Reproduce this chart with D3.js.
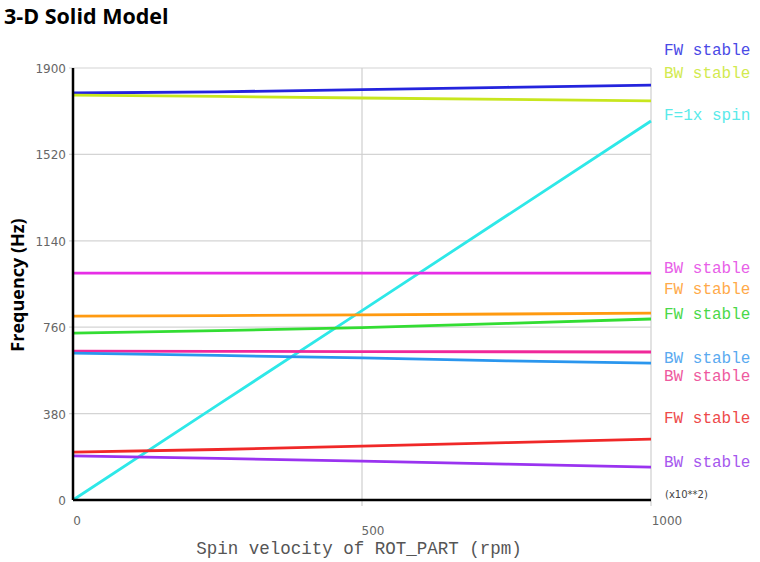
<!DOCTYPE html>
<html><head><meta charset="utf-8">
<script src="https://cdn.jsdelivr.net/npm/d3@7"></script>
<style>body{margin:0;background:#fff;}svg{display:block;}</style>
</head><body>
<script>
const title = "3-D Solid Model";
const xTicks = [0, 500, 1000];
const yTicks = [0, 380, 760, 1140, 1520, 1900];
const xSamples = [0, 250, 500, 750, 1000];
const seriesNames = ["FW stable","BW stable","F=1x spin","BW stable","FW stable","FW stable","BW stable","BW stable","FW stable","BW stable"];
const blueFW    = [1790, 1795, 1805, 1815, 1825];
const yellowBW  = [1781, 1775, 1768, 1762, 1755];
const spin1x    = [0, 417, 833, 1250, 1667];
const magentaBW = [998, 998, 998, 998, 998];
const orangeFW  = [809, 811, 814, 818, 822];
const greenFW   = [734, 745, 758, 777, 796];
const pinkBW    = [655, 654, 653, 652, 651];
const lblueBW   = [646, 636, 625, 612, 602];
const redFW     = [211, 222, 237, 252, 268];
const purpleBW  = [194, 183, 171, 158, 145];
const seriesValues = [blueFW, yellowBW, spin1x, magentaBW, orangeFW, greenFW, pinkBW, lblueBW, redFW, purpleBW];
const lineColors = ["#2424dd","#c8e61e","#2ee8e8","#e62ee6","#ff9a10","#33dd33","#f0289a","#2a96ee","#f02828","#9a33f0"];
const labelColors = ["#4a4ae6","#d2ea50","#5aeaea","#e860e8","#ffaa4a","#4ad84a","#ee5a9e","#5aaaf0","#ee4a4a","#a658ee"];
// legend label order (top to bottom) maps to series index
const legendOrder = [0,1,2,3,4,5,7,6,8,9];
const legendY = [50,73,115,268,289,314,358,376,418,462];

const W=760,H=562;
const svg=d3.select("body").append("svg").attr("width",W).attr("height",H);
const x=d3.scaleLinear().domain([0,1000]).range([73,651]);
const y=d3.scaleLinear().domain([0,1900]).range([500,68]);

svg.append("text").attr("x",4).attr("y",24).text(title)
  .attr("font-family","'Open Sans', sans-serif").attr("font-weight","bold").attr("font-size",21.5).attr("fill","#000");

// grid
svg.append("g").selectAll("line").data(yTicks.filter(d=>d>0)).join("line")
  .attr("x1",x(0)-4).attr("x2",x(1000)).attr("y1",d=>y(d)).attr("y2",d=>y(d))
  .attr("stroke","#d4d4d4").attr("stroke-width",1.2);
svg.append("g").selectAll("line").data(xTicks.filter(d=>d>0)).join("line")
  .attr("x1",d=>x(d)).attr("x2",d=>x(d)).attr("y1",y(1900)).attr("y2",y(0)+6)
  .attr("stroke","#cfcfcf").attr("stroke-width",1.2);

// y tick labels
svg.append("g").selectAll("text").data(yTicks).join("text")
  .attr("x",x(0)-7).attr("y",d=>y(d)+5).attr("text-anchor","end").text(d=>d)
  .attr("font-family","'DejaVu Sans', sans-serif").attr("font-size",12).attr("fill","#666");
// x tick labels
const xLabY={0:525,500:535,1000:525};
const xLabDx={0:4,500:11,1000:16};
svg.append("g").selectAll("text").data(xTicks).join("text")
  .attr("x",d=>x(d)+xLabDx[d]).attr("y",d=>xLabY[d]).attr("text-anchor","middle").text(d=>d)
  .attr("font-family","'DejaVu Sans', sans-serif").attr("font-size",12).attr("fill","#666");
svg.append("text").attr("x",665).attr("y",498).text("(x10**2)")
  .attr("font-family","'DejaVu Sans', sans-serif").attr("font-size",10).attr("fill","#444");

// lines
const line=d3.line().x((d,i)=>x(xSamples[i])).y(d=>y(d));
svg.append("g").selectAll("path").data(seriesValues).join("path")
  .attr("d",d=>line(d)).attr("fill","none").attr("stroke",(d,i)=>lineColors[i]).attr("stroke-width",2.8);

// axes
svg.append("line").attr("x1",x(0)).attr("x2",x(0)).attr("y1",y(1900)).attr("y2",y(0)).attr("stroke","#000").attr("stroke-width",2.5);
svg.append("line").attr("x1",x(0)).attr("x2",x(1000)).attr("y1",y(0)).attr("y2",y(0)).attr("stroke","#000").attr("stroke-width",2.5);

// legend labels
svg.append("g").selectAll("text").data(legendOrder).join("text")
  .attr("x",664).attr("y",(d,i)=>legendY[i]+5).text(d=>seriesNames[d])
  .attr("font-family","'Liberation Mono', monospace").attr("font-size",16).attr("fill",d=>labelColors[d]);

// axis titles
svg.append("text").attr("x",359).attr("y",554).attr("text-anchor","middle").text("Spin velocity of ROT_PART (rpm)")
  .attr("font-family","'Liberation Mono', monospace").attr("font-size",17.5).attr("fill","#555");
svg.append("text").attr("transform","translate(24,285) rotate(-90)").attr("text-anchor","middle").text("Frequency (Hz)")
  .attr("font-family","'Open Sans', sans-serif").attr("font-weight","bold").attr("font-size",18).attr("fill","#000");
</script>
</body></html>
